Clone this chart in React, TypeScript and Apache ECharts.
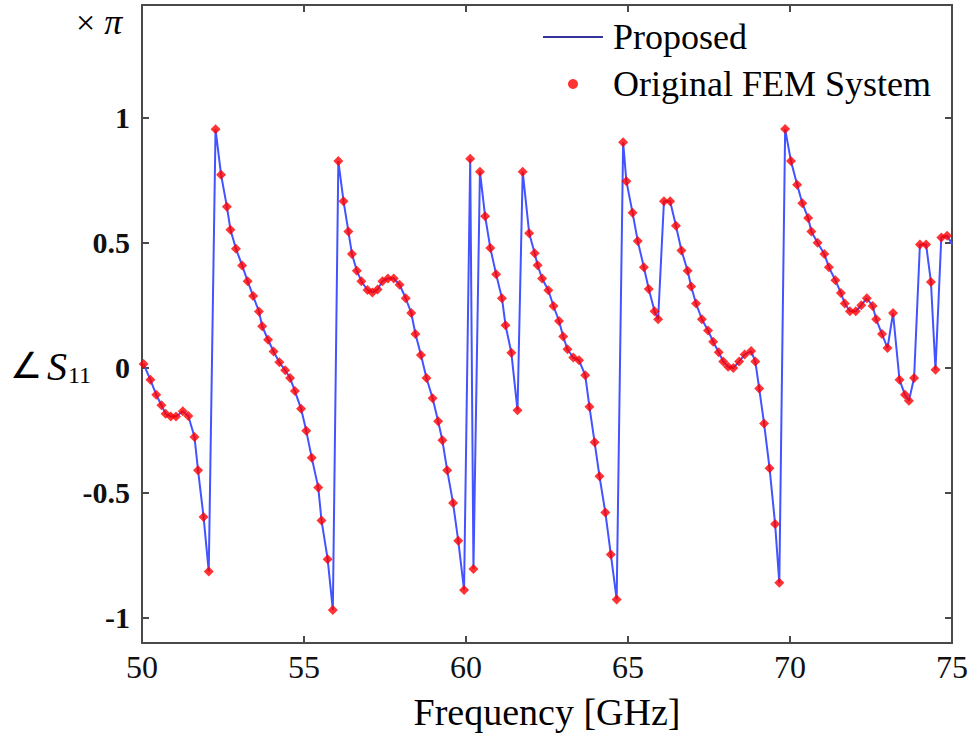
import React, { useEffect, useRef } from "react";
import * as echarts from "echarts";

const freqGHz = [
  50.05, 50.26, 50.44, 50.6, 50.73, 50.89, 51.05, 51.26, 51.43, 51.62, 51.73, 51.9, 52.06,
  52.27, 52.44, 52.62, 52.73, 52.9, 53.09, 53.26, 53.43, 53.61, 53.71, 53.89, 54.06, 54.24,
  54.42, 54.57, 54.72, 54.91, 55.07, 55.24, 55.44, 55.54, 55.73, 55.89,
  56.06, 56.22, 56.37, 56.48, 56.63, 56.77, 56.96, 57.11, 57.27, 57.42, 57.59, 57.77, 57.95,
  58.14, 58.31, 58.44, 58.61, 58.78, 58.97, 59.14, 59.27, 59.42, 59.6, 59.76, 59.94,
  60.13, 60.23, 60.43, 60.59, 60.75, 60.93, 61.11, 61.22, 61.4, 61.59,
  61.75, 61.95, 62.12, 62.21, 62.35, 62.54, 62.7, 62.87, 63.0, 63.13, 63.31, 63.49, 63.68,
  63.81, 63.97, 64.12, 64.3, 64.47, 64.65,
  64.85, 64.95, 65.14, 65.3, 65.49, 65.64, 65.82, 65.93,
  66.11, 66.3, 66.48, 66.65, 66.84, 66.95, 67.1, 67.28, 67.47, 67.63, 67.8, 67.94, 68.09,
  68.25, 68.43, 68.6, 68.8, 68.93, 69.05, 69.2, 69.37, 69.54, 69.67,
  69.85, 70.03, 70.22, 70.38, 70.56, 70.66, 70.85, 71.06, 71.2, 71.4, 71.57, 71.69, 71.85,
  72.03, 72.2, 72.37, 72.55, 72.66, 72.84, 73.01, 73.18, 73.38, 73.55, 73.67, 73.83,
  74.01, 74.2, 74.35, 74.49, 74.67, 74.85, 75.01,
];

const phasePi = [
  0.015, -0.048, -0.108, -0.15, -0.184, -0.195, -0.195, -0.174, -0.193, -0.277, -0.41, -0.596, -0.814,
  0.953, 0.772, 0.644, 0.552, 0.476, 0.409, 0.346, 0.287, 0.225, 0.166, 0.112, 0.065, 0.022,
  -0.01, -0.041, -0.093, -0.164, -0.252, -0.36, -0.478, -0.61, -0.765, -0.968,
  0.826, 0.666, 0.545, 0.455, 0.388, 0.346, 0.311, 0.301, 0.313, 0.346, 0.357, 0.357, 0.332,
  0.278, 0.219, 0.135, 0.051, -0.041, -0.122, -0.214, -0.29, -0.41, -0.54, -0.691, -0.888,
  0.835, -0.804, 0.784, 0.606, 0.479, 0.374, 0.278, 0.17, 0.06, -0.17,
  0.784, 0.538, 0.458, 0.41, 0.357, 0.31, 0.247, 0.187, 0.125, 0.074, 0.041, 0.03, -0.03,
  -0.156, -0.298, -0.434, -0.578, -0.746, -0.926,
  0.901, 0.746, 0.62, 0.507, 0.402, 0.315, 0.226, 0.194,
  0.666, 0.666, 0.568, 0.469, 0.388, 0.325, 0.257, 0.194, 0.149, 0.104, 0.062, 0.025, 0.004,
  -0.001, 0.025, 0.053, 0.067, 0.025, -0.083, -0.223, -0.402, -0.624, -0.859,
  0.954, 0.826, 0.732, 0.658, 0.599, 0.545, 0.5, 0.455, 0.402, 0.35, 0.299, 0.257, 0.226,
  0.226, 0.25, 0.278, 0.247, 0.194, 0.135, 0.079, 0.219, -0.048, -0.108, -0.132, -0.041,
  0.493, 0.493, 0.343, -0.008, 0.521, 0.528, 0.493,
];

const yTicks = [-1, -0.5, 0, 0.5, 1];
const xTicks = [50, 55, 60, 65, 70, 75];

const SERIF = "'Liberation Serif', 'Times New Roman', serif";
const AXIS_COLOR = "#4a4a4a";

export default function App() {
  const ref = useRef<HTMLDivElement>(null);

  useEffect(() => {
    if (!ref.current) return;
    const chart = echarts.init(ref.current, undefined, { renderer: "svg" });
    const pts = freqGHz.map((f, i) => [f, phasePi[i]]);

    const xBase = {
      type: "value",
      min: 50,
      max: 75,
      interval: 5,
      splitLine: { show: false },
      axisLine: { show: true, onZero: false, lineStyle: { color: AXIS_COLOR, width: 2 } },
      axisTick: { show: true, inside: true, length: 7, lineStyle: { color: AXIS_COLOR, width: 2 } },
    };
    const yBase = {
      type: "value",
      min: -1.1,
      max: 1.45,
      splitLine: { show: false },
      axisLine: { show: true, onZero: false, lineStyle: { color: AXIS_COLOR, width: 2 } },
      axisTick: {
        show: true,
        inside: true,
        length: 7,
        customValues: yTicks,
        lineStyle: { color: AXIS_COLOR, width: 2 },
      },
    };

    chart.setOption({
      animation: false,
      backgroundColor: "#ffffff",
      grid: { left: 142, top: 5, right: 21, bottom: 112, containLabel: false },
      xAxis: [
        {
          ...xBase,
          position: "bottom",
          name: "Frequency [GHz]",
          nameLocation: "middle",
          nameGap: 50,
          nameTextStyle: { fontFamily: SERIF, fontSize: 38, color: "#000" },
          axisLabel: {
            show: true,
            margin: 8,
            fontFamily: SERIF,
            fontSize: 32,
            color: "#111",
            customValues: xTicks,
          },
        },
        { ...xBase, position: "top", axisLabel: { show: false } },
      ],
      yAxis: [
        {
          ...yBase,
          position: "left",
          axisLabel: {
            show: true,
            margin: 12,
            fontFamily: SERIF,
            fontSize: 30,
            fontWeight: "bold",
            color: "#111",
            customValues: yTicks,
          },
        },
        { ...yBase, position: "right", axisLabel: { show: false } },
      ],
      legend: {
        orient: "vertical",
        left: 538,
        top: 14,
        itemWidth: 60,
        itemHeight: 10,
        itemGap: 11,
        textStyle: {
          fontFamily: SERIF,
          fontSize: 36,
          color: "#000",
          lineHeight: 36,
          padding: [0, 0, 0, 5],
        },
        data: [
          { name: "Proposed", icon: "path://M0,0L60,0L60,2L0,2Z", itemStyle: { color: "#33339a" } },
          { name: "Original FEM System", icon: "circle" },
        ],
      },
      series: [
        {
          name: "Proposed",
          type: "line",
          data: pts,
          symbol: "none",
          lineStyle: { color: "#4353ff", width: 2 },
          itemStyle: { color: "#4353ff" },
          z: 2,
        },
        {
          name: "Original FEM System",
          type: "scatter",
          data: pts,
          symbol: "diamond",
          symbolSize: 10,
          itemStyle: { color: "#ff0000" },
          z: 3,
        },
      ],
      graphic: [
        {
          type: "text",
          left: 10,
          top: 346,
          style: {
            text: "{a|∠}{s|S}{sub|11}",
            rich: {
              a: { fontFamily: SERIF, fontSize: 36, fill: "#000", padding: [0, 5, 0, 0] },
              s: { fontFamily: SERIF, fontSize: 40, fontStyle: "italic", fill: "#000" },
              sub: { fontFamily: SERIF, fontSize: 24, fill: "#000", padding: [18, 0, 0, 1] },
            },
          },
        },
        {
          type: "text",
          left: 76,
          top: 4,
          style: {
            text: "{a|×}{p|π}",
            rich: {
              a: { fontFamily: SERIF, fontSize: 34, lineHeight: 36, fill: "#000", padding: [0, 9, 0, 0] },
              p: { fontFamily: SERIF, fontSize: 36, lineHeight: 36, fontStyle: "italic", fill: "#000" },
            },
          },
        },
      ],
    });

    return () => chart.dispose();
  }, []);

  return <div ref={ref} style={{ width: 973, height: 755, position: "absolute", left: 0, top: 0 }} />;
}
